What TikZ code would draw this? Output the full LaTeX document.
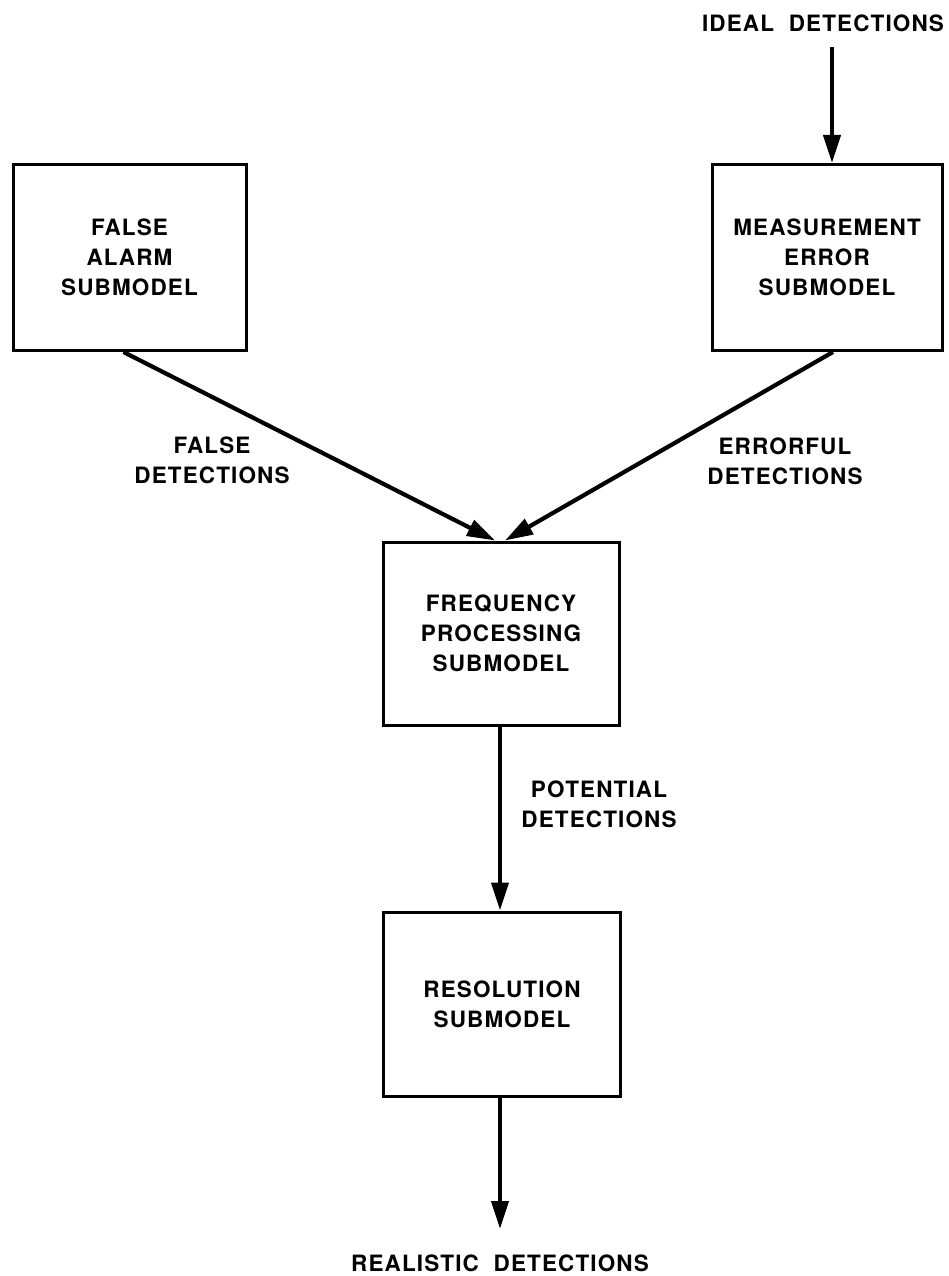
\documentclass[tikz,border=0pt]{standalone}
\usepackage{fontspec}
\setmainfont{TeX Gyre Heros}[LetterSpace=5]
\usetikzlibrary{arrows.meta,calc}
\begin{document}
\begin{tikzpicture}[x=1pt,y=-1pt,
  every node/.style={font=\bfseries\fontsize{22.5}{30}\selectfont, align=center, inner sep=0pt},
  block/.style={draw, line width=3pt, minimum width=#1, minimum height=186pt},
  block/.default=233pt,
  flow/.style={line width=4.2pt, -{Triangle[length=28pt,width=17pt]}},
  tag/.style={text=black}]
  \useasboundingbox (0,0) rectangle (948,1276);

  % submodel boxes
  \node[block] (fa) at (129.5,257.5) {FALSE\\ALARM\\SUBMODEL};
  \node[block=230pt] (me) at (827,257.5) {MEASUREMENT\\ERROR\\SUBMODEL};
  \node[block=236pt, minimum height=183pt] (fp) at (501,633.5) {FREQUENCY\\PROCESSING\\SUBMODEL};
  \node[block=237pt, minimum height=184pt] (rs) at (502,1004) {RESOLUTION\\SUBMODEL};

  % external inputs and outputs
  \node[tag] (ideal) at (823,23) {IDEAL\ \ DETECTIONS};
  \node[tag] (real) at (500,1263) {REALISTIC\ \ DETECTIONS};
  \coordinate (idealend) at (832,47);
  \coordinate (realend) at (500,1229);

  % connector labels
  \node[tag] (lfalse) at (212,460) {FALSE\\DETECTIONS};
  \node[tag] (lerr) at (785,461) {ERRORFUL\\DETECTIONS};
  \node[tag] (lpot) at (599,804) {POTENTIAL\\DETECTIONS};

  % connectors
  \draw[flow] (idealend) -- (idealend |- me.north);
  \draw[flow] ($(fa.south)+(-6,0)$) -- ($(fp.north)+(-6,0)$);
  \draw[flow] ($(me.south)+(6,0)$) -- ($(fp.north)+(4,0)$);
  \draw[flow] ($(fp.south)+(-1,0)$) -- ($(rs.north)+(-2,0)$);
  \draw[flow] ($(rs.south)+(-2,0)$) -- (realend);
\end{tikzpicture}
\end{document}
